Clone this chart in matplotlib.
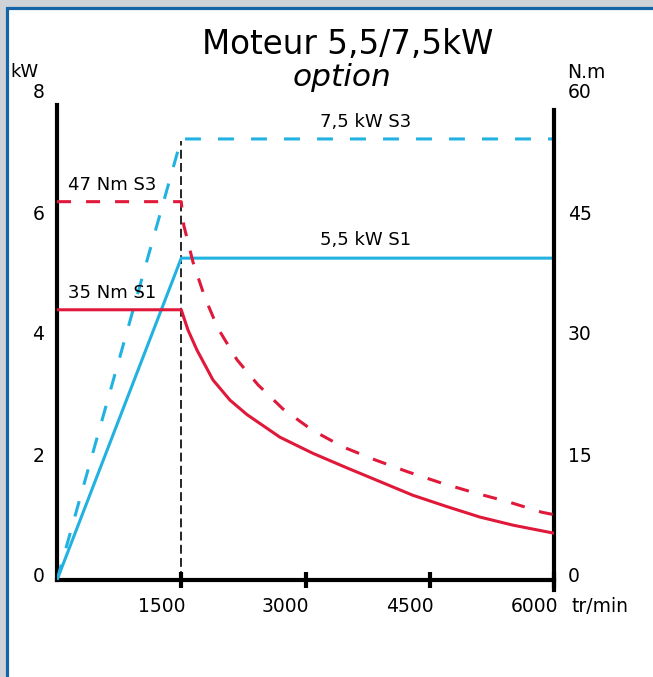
import matplotlib.pyplot as plt
from matplotlib.patches import Rectangle
from matplotlib.transforms import ScaledTranslation

plt.rcParams['font.family'] = ['DejaVu Sans']

# power curves (kW) vs speed (tr/min)
rpm_power = [0, 1500, 6000]
kw_s1 = [0, 5.32, 5.32]
kw_s3 = [0, 7.29, 7.29]

# torque curves (N.m) vs speed
rpm_t_s1 = [0, 1500, 1581, 1690, 1883, 2088, 2294, 2692, 3090, 3500, 3899, 4297, 4707, 5106, 5504, 6000]
nm_s1 = [33.5, 33.5, 31.0, 28.5, 24.8, 22.3, 20.5, 17.7, 15.7, 13.9, 12.2, 10.5, 9.1, 7.8, 6.8, 5.8]
rpm_t_s3 = [0, 1500, 1530, 1642, 1786, 1943, 2173, 2426, 2728, 3078, 3452, 3838, 4237, 4647, 5045, 5444, 5854, 6000]
nm_s3 = [46.9, 46.9, 44.0, 39.4, 35.0, 31.2, 27.3, 24.2, 21.2, 18.6, 16.5, 14.9, 13.4, 12.0, 10.8, 9.7, 8.4, 8.1]

x_ticks = [1500, 3000, 4500, 6000]
kw_ticks = [0, 2, 4, 6, 8]
nm_ticks = [0, 15, 30, 45, 60]

blue = '#22b2e2'
red = '#e0193a'
W, H = 653, 677

fig = plt.figure(figsize=(W / 100, H / 100), dpi=100)
fig.patch.set_facecolor('#cfd3d7')
# white panel with blue frame
fig.patches.append(Rectangle((6.5 / W, -0.1), 1.2, (H - 7.5) / H + 0.1, transform=fig.transFigure,
                             facecolor='white', edgecolor='#1663a6', linewidth=2.3, zorder=-5))

ax = fig.add_axes([57 / W, (H - 580) / H, (554 - 57) / W, (580 - 96) / H])
ax.set_facecolor('none')
ax2 = ax.twinx()
ax2.set_facecolor('none')

ax.set_xlim(0, 6000)
ax.set_ylim(0, 8)
ax2.set_ylim(0, 60)

ax.plot(rpm_power, kw_s1, color=blue, lw=2.2, solid_joinstyle='miter', zorder=3)
ax.plot(rpm_power, kw_s3, color=blue, lw=2.2, dashes=(5.2, 5.6), zorder=3)
ax2.plot(rpm_t_s1, nm_s1, color=red, lw=2.2, zorder=3)
ax2.plot(rpm_t_s3, nm_s3, color=red, lw=2.2, dashes=(4.6, 4.9), zorder=3)
ax.plot([1500, 1500], [0, 7.25], color='black', lw=1.2, dashes=(5.3, 2.6), zorder=2)

for a in (ax, ax2):
    for s in a.spines.values():
        s.set_linewidth(3)
    a.spines['top'].set_visible(False)
ax.spines['right'].set_visible(False)
ax2.spines['left'].set_visible(False)
ax2.spines['bottom'].set_visible(False)
ax.spines['left'].set_bounds(0, 7.85)
ax2.spines['right'].set_bounds(-1.2, 58.3)

ax.set_xticks(x_ticks)
ax.set_xticklabels([str(v) for v in x_ticks])
ax.tick_params(axis='x', direction='inout', length=12, width=3, pad=6.5, labelsize=13.5)
for lab in ax.get_xticklabels():
    lab.set_horizontalalignment('right')
    lab.set_transform(lab.get_transform() + ScaledTranslation(4 / 100, 0, fig.dpi_scale_trans))

ax.set_yticks(kw_ticks)
ax.tick_params(axis='y', length=0, pad=9, labelsize=13.5)
ax2.set_yticks(nm_ticks)
ax2.tick_params(axis='y', length=0, pad=10, labelsize=13.5)
for lab in ax.get_yticklabels() + ax2.get_yticklabels():
    lab.set_transform(lab.get_transform() + ScaledTranslation(0, 5 / 100, fig.dpi_scale_trans))
ax.set_yticklabels([str(v) for v in kw_ticks])
ax2.set_yticklabels([str(v) for v in nm_ticks])

# curve labels
ax.text(3730, 7.57, '7,5 kW S3', ha='center', va='center', fontsize=13)
ax.text(3730, 5.62, '5,5 kW S1', ha='center', va='center', fontsize=13)
ax.text(133, 6.53, '47 Nm S3', ha='left', va='center', fontsize=13)
ax.text(133, 4.74, '35 Nm S1', ha='left', va='center', fontsize=13)

# titles and units
fig.text(348 / W, 1 - 44 / H, 'Moteur 5,5/7,5kW', ha='center', va='center', fontsize=23.5)
fig.text(342 / W, 1 - 78 / H, 'option', ha='center', va='center', fontsize=22.5, style='italic')
fig.text(24 / W, 1 - 72 / H, 'kW', ha='center', va='center', fontsize=13)
fig.text(586 / W, 1 - 72 / H, 'N.m', ha='center', va='center', fontsize=13.5)
fig.text(572 / W, 1 - 607 / H, 'tr/min', ha='left', va='center', fontsize=13.5)

fig.savefig('out.png', dpi=100)
